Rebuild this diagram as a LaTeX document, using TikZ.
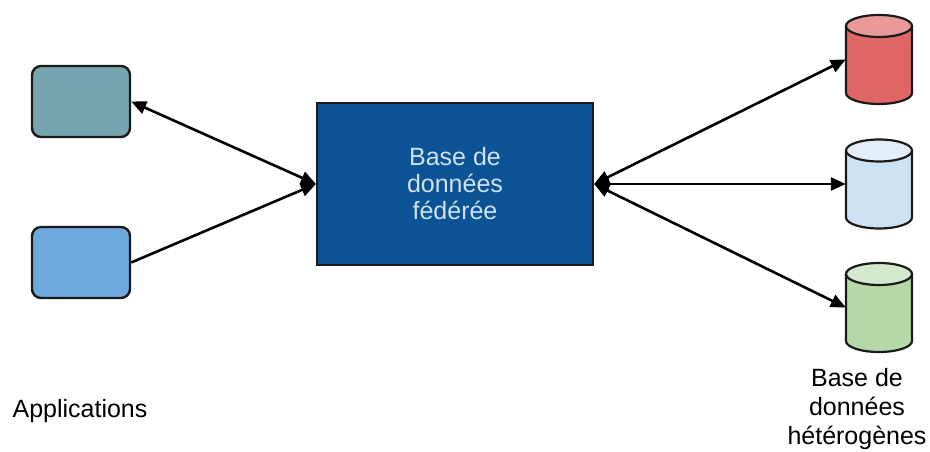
\documentclass[tikz,border=0pt]{standalone}
\usepackage{fontspec}
\setmainfont{Liberation Sans}
\usetikzlibrary{arrows.meta}
\definecolor{appone}{HTML}{76A5AF}
\definecolor{apptwo}{HTML}{6FA8DC}
\definecolor{fedblue}{HTML}{0B5394}
\definecolor{fedtext}{HTML}{CFE2F3}
\definecolor{redbody}{HTML}{E06666}
\definecolor{redtop}{HTML}{EA9999}
\definecolor{bluebody}{HTML}{CFE2F3}
\definecolor{bluetop}{HTML}{E3EEF8}
\definecolor{greenbody}{HTML}{B6D7A8}
\definecolor{greentop}{HTML}{D4E8CC}
\definecolor{edgecol}{HTML}{1A1A1A}
\tikzset{
  appbox/.style={draw=edgecol, line width=2.4pt, rounded corners=9pt, minimum width=98pt, minimum height=71pt, inner sep=0pt},
  fedbox/.style={draw=edgecol, line width=2.2pt, fill=fedblue, minimum width=276pt, minimum height=162pt, inner sep=0pt, text=fedtext, align=center, font=\fontsize{25}{27}\selectfont},
  dbnode/.style={draw=none, minimum width=66pt, minimum height=89pt, inner sep=0pt},
  dbedge/.style={draw=edgecol, line width=2.2pt},
  conn/.style={line width=2.6pt, black},
  tip/.style={-{Triangle[length=15pt,width=13pt]}},
  bitip/.style={{Triangle[length=15pt,width=13pt]}-{Triangle[length=15pt,width=13pt]}},
  lbl/.style={align=center, font=\fontsize{25}{29}\selectfont, text=black, inner sep=0pt}
}
% #1 name, #2 centre x, #3 centre y, #4 body colour, #5 top colour
\newcommand{\drawdb}[5]{%
  \node[dbnode] (#1) at (#2,#3) {};
  \fill[#4] ({#2-33},{#3+33.5}) -- ({#2-33},{#3-33.5})
    arc[start angle=180, end angle=360, x radius=33, y radius=11]
    -- ({#2+33},{#3+33.5}) -- cycle;
  \draw[dbedge] ({#2-33},{#3+33.5}) -- ({#2-33},{#3-33.5})
    arc[start angle=180, end angle=360, x radius=33, y radius=11]
    -- ({#2+33},{#3+33.5});
  \filldraw[dbedge, fill=#5] (#2,{#3+33.5}) ellipse[x radius=33, y radius=11];
}
\begin{document}
\begin{tikzpicture}[x=1pt,y=1pt]
\useasboundingbox (0,0) rectangle (930,452);
\node[appbox, fill=appone] (app1) at (81,350.5) {};
\node[appbox, fill=apptwo] (app2) at (81,189.5) {};
\node[fedbox] (fed) at (455,268) {Base de\\données\\fédérée};
\drawdb{db1}{879}{392.5}{redbody}{redtop}
\drawdb{db2}{879}{268}{bluebody}{bluetop}
\drawdb{db3}{879}{144.5}{greenbody}{greentop}
\node[lbl] (applbl) at (80,41) {Applications};
\node[lbl] (dblbl) at (857,43) {Base de\\données\\hétérogènes};
\draw[conn, bitip] (app1.east) -- (fed.west);
\draw[conn, tip] (app2.east) -- (fed.west);
\draw[conn, bitip] (fed.east) -- (db1.west);
\draw[conn, bitip] (fed.east) -- (db2.west);
\draw[conn, bitip] (fed.east) -- (db3.west);
\end{tikzpicture}
\end{document}
